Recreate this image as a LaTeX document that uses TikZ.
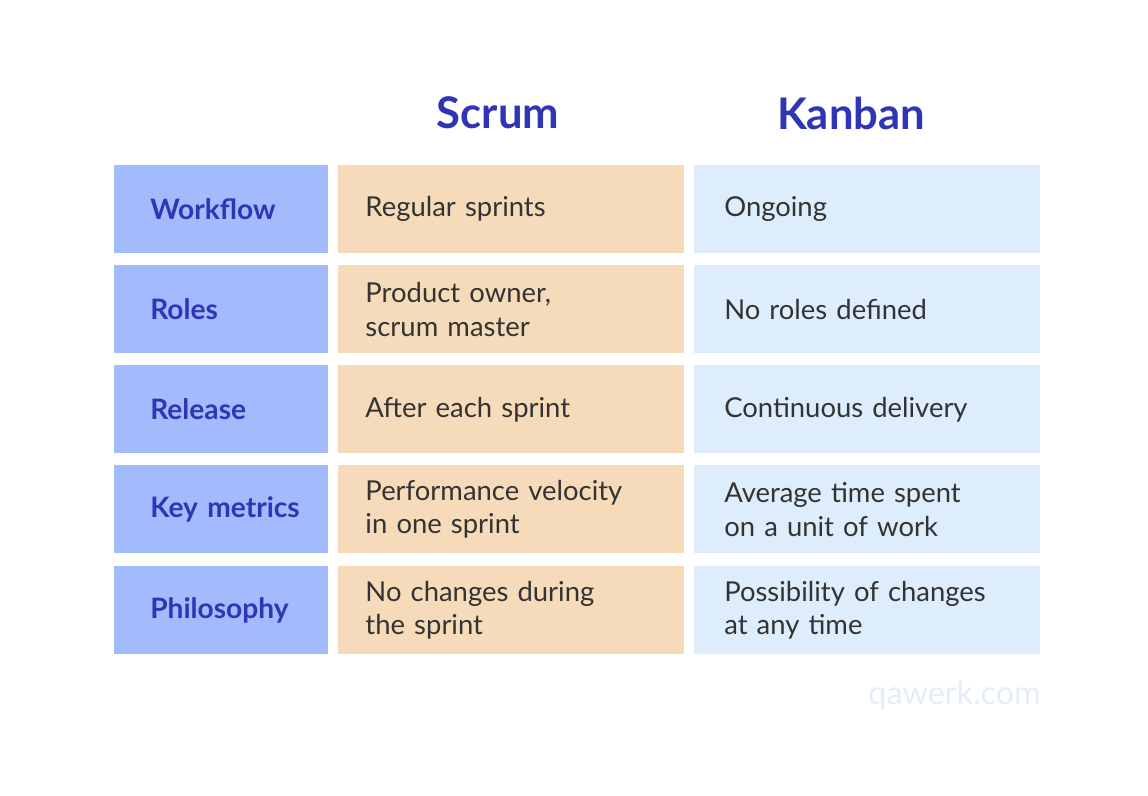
\documentclass[tikz,border=0pt]{standalone}
\usepackage{fontspec}
\setmainfont{Lato}
\definecolor{labelblue}{HTML}{A1BBFC}
\definecolor{headink}{HTML}{2F35B5}
\definecolor{scrumfill}{HTML}{F6DBBA}
\definecolor{kanbanfill}{HTML}{DDEDFC}
\definecolor{bodyink}{HTML}{333333}
\definecolor{markink}{HTML}{E3EEF9}
\tikzset{
  cell/.style={anchor=north west, minimum height=2.2cm, inner sep=0pt, text width=#1, align=left},
  lab/.style={cell=5.35cm, fill=labelblue, text=headink, font=\fontsize{20}{24}\selectfont\bfseries, inner xsep=0.9cm, text width=3.55cm},
  scr/.style={cell=8.65cm, fill=scrumfill, text=bodyink, font=\fontsize{19.5}{24}\selectfont, inner xsep=0.68cm, text width=7.29cm},
  kan/.style={cell=8.65cm, fill=kanbanfill, text=bodyink, font=\fontsize{19.5}{24}\selectfont, inner xsep=0.75cm, text width=7.15cm},
  head/.style={text=headink, font=\fontsize{31}{34}\selectfont\bfseries}
}
\begin{document}
\begin{tikzpicture}[x=0.025cm, y=-0.025cm]
  \useasboundingbox[fill=white] (0,0) rectangle (1148,795);
  \node[head] (scrum) at (498,113) {Scrum};
  \node[head] (kanban) at (851,113) {Kanban};
  % rows
  \node[lab] (l1) at (114,165) {Workflow};
  \node[scr] (s1) at (338,165) {Regular sprints};
  \node[kan] (k1) at (694,165) {Ongoing};
  \node[lab] (l2) at (114,265) {Roles};
  \node[scr] (s2) at (338,265) {Product owner,\\scrum master};
  \node[kan] (k2) at (694,265) {No roles defined};
  \node[lab] (l3) at (114,365) {Release};
  \node[scr] (s3) at (338,365) {After each sprint};
  \node[kan] (k3) at (694,365) {Continuous delivery};
  \node[lab] (l4) at (114,465) {\mbox{Key metrics}};
  \node[scr] (s4) at (338,465) {Performance velocity\\in one sprint};
  \node[kan] (k4) at (694,465) {Average time spent\\on a unit of work};
  \node[lab] (l5) at (114,566) {Philosophy};
  \node[scr] (s5) at (338,566) {No changes during\\the sprint};
  \node[kan] (k5) at (694,566) {Possibility of changes\\at any time};
  \node[anchor=east, text=markink, font=\fontsize{23}{26}\selectfont, inner sep=0pt] (mark) at (1041,695) {qawerk.com};
\end{tikzpicture}
\end{document}
